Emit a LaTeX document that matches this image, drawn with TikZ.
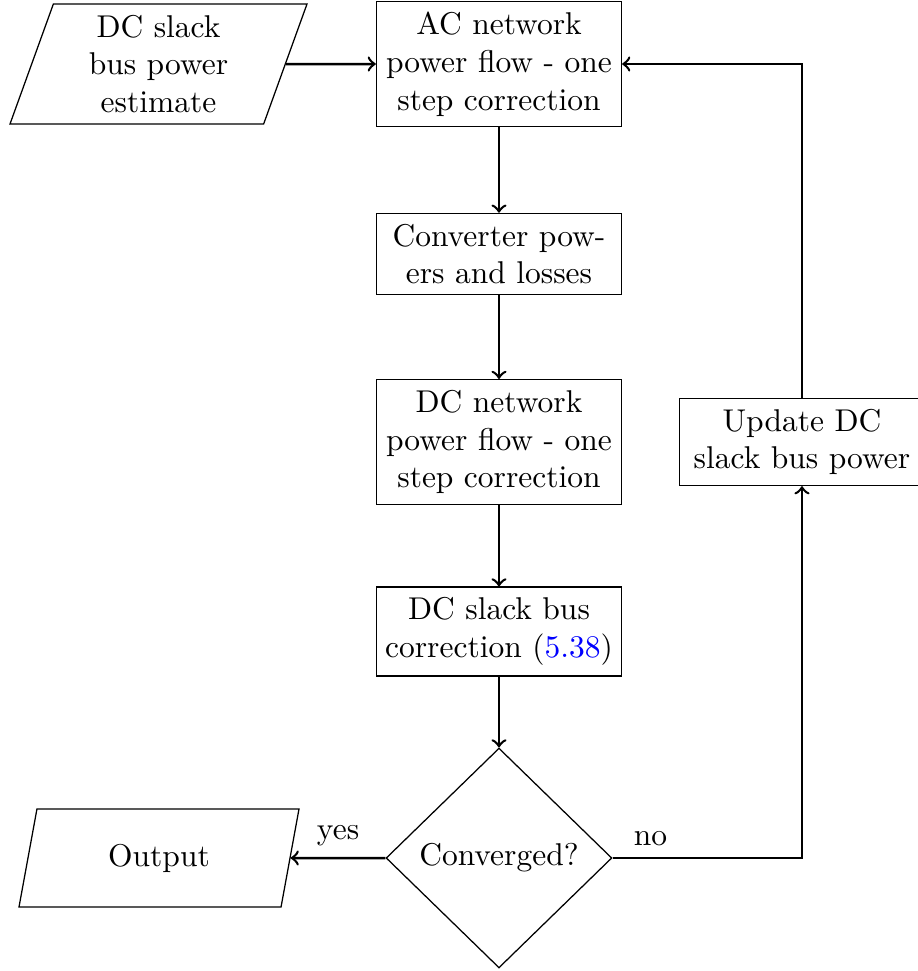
\documentclass[tikz,border=0pt]{standalone}
\usetikzlibrary{shapes.geometric}
\newcommand{\fullline}[1]{\makebox[\linewidth]{#1}}
\begin{document}
\begin{tikzpicture}[x=0.3175pt,y=-0.3175pt,
  procbox/.style={draw, rectangle, text width=2.5cm, align=center},
  iobox/.style={draw, trapezium, trapezium left angle=70, trapezium right angle=110,
    trapezium stretches body, align=center},
  decbox/.style={draw, diamond, inner sep=0pt, minimum width=71.7pt, minimum height=69.8pt},
  flow/.style={->, thick}]
\useasboundingbox (0,0) rectangle (918,971);

% blocks of the iteration
\node[iobox, minimum width=94.3pt, minimum height=38.1pt] (est) at (158.5,64)
  {DC slack\\bus power\\estimate};
\node[procbox] (ac) at (499,64)
  {AC network\\\fullline{power flow - one}\\step correction};
\node[procbox] (conv) at (499,254) {Converter pow-\\ers and losses};
\node[procbox] (dcn) at (499,442)
  {DC network\\\fullline{power flow - one}\\step correction};
\node[procbox] (corr) at (499,631.5)
  {DC slack bus\\\fullline{correction (\textcolor{blue}{5.38})}};
\node[decbox] (dec) at (499,858) {Converged?};
\node[iobox, minimum width=88.9pt, minimum height=31.1pt] (out) at (159,858) {Output};
\node[procbox] (upd) at (802,442) {Update DC\\slack bus power};

% connectors
\draw[flow] (est) -- (ac);
\draw[flow] (ac) -- (conv);
\draw[flow] (conv) -- (dcn);
\draw[flow] (dcn) -- (corr);
\draw[flow] (corr) -- (dec);
\draw[flow] (dec) -- node[above] {yes} (out);
\draw[flow] (dec.east) -| node[pos=0.1, above] {no} (upd.south);
\draw[flow] (upd.north) |- (ac.east);
\end{tikzpicture}
\end{document}
